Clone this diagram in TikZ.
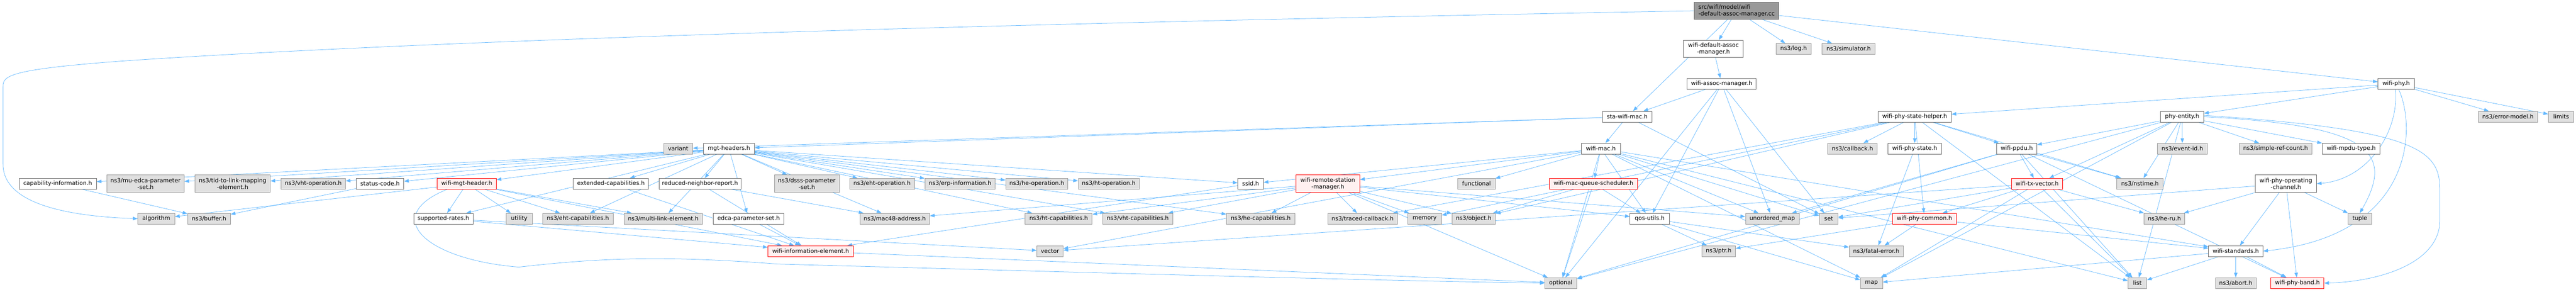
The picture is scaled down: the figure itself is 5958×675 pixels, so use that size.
\documentclass[tikz,border=0pt]{standalone}
\usepackage{fontspec}
\newfontfamily\dx{DejaVu Sans}
\usetikzlibrary{arrows.meta}
\pgfdeclarelayer{bg}
\pgfsetlayers{bg,main}
\definecolor{edgec}{HTML}{63B8FF}
\definecolor{extfill}{HTML}{E0E0E0}
\definecolor{extdraw}{HTML}{999999}
\definecolor{intdraw}{HTML}{666666}
\definecolor{redfill}{HTML}{FFF0F0}
\definecolor{reddraw}{HTML}{FF0000}
\definecolor{rootfill}{HTML}{999999}
\tikzset{
  base/.style={rectangle, inner sep=0pt, minimum height=25pt, line width=1pt,
    font={\dx\fontsize{13.33pt}{15.5pt}\selectfont}, align=center, text=black},
  ext/.style={base, fill=extfill, draw=extdraw},
  int/.style={base, fill=white, draw=intdraw},
  trunc/.style={base, fill=redfill, draw=reddraw},
  rootn/.style={base, fill=rootfill, draw=intdraw, align=left},
  two/.style={minimum height=40pt},
  edge/.style={draw=edgec, line width=0.9pt, -{Triangle[length=11pt,width=8pt]}}
}
\newcommand\mknode[6]{\node[#1, minimum width=#2pt] (#3) at (#4,#5) {#6};}
\begin{document}
\begin{tikzpicture}[x=1pt,y=-1pt]
\useasboundingbox (0,0) rectangle (5958,675);
% row 0
\mknode{rootn,two}{195}{root}{4016.5}{25}{src/wifi/model/wifi\\-default-assoc-manager.cc}
% row 1
\mknode{int,two}{138}{wdam}{3963}{113}{wifi-default-assoc\\-manager.h}
\mknode{ext}{81}{log}{4148.5}{113}{ns3/log.h}
\mknode{ext}{123}{sim}{4275.5}{113}{ns3/simulator.h}
% row 2
\mknode{int}{160}{wam}{3982}{194}{wifi-assoc-manager.h}
\mknode{int}{84}{wphy}{5542}{194}{wifi-phy.h}
% row 3
\mknode{int}{115}{sta}{3763.5}{270}{sta-wifi-mac.h}
\mknode{int}{169}{wpsh}{4428.5}{270}{wifi-phy-state-helper.h}
\mknode{int}{100}{phyent}{5047}{270}{phy-entity.h}
\mknode{ext}{137}{errmod}{5800.5}{270}{ns3/error-model.h}
\mknode{ext}{59}{limits}{5923.5}{270}{limits}
% row 4
\mknode{ext}{67}{variant}{1568.5}{344}{variant}
\mknode{int}{118}{mgth}{1686}{344}{mgt-headers.h}
\mknode{int}{91}{wmac}{3702.5}{344}{wifi-mac.h}
\mknode{ext}{115}{callback}{4284.5}{344}{ns3/callback.h}
\mknode{int}{123}{wpstate}{4428.5}{344}{wifi-phy-state.h}
\mknode{int}{93}{wppdu}{4664.5}{344}{wifi-ppdu.h}
\mknode{ext}{115}{eventid}{5047.5}{344}{ns3/event-id.h}
\mknode{ext}{168}{srefc}{5263}{344}{ns3/simple-ref-count.h}
\mknode{int}{134}{mpdut}{5438}{344}{wifi-mpdu-type.h}
% row 5
\mknode{int}{179}{capinfo}{133.5}{425}{capability-information.h}
\mknode{ext,two}{179}{muedca}{336.5}{425}{ns3/mu-edca-parameter\\-set.h}
\mknode{ext,two}{174}{tid}{538}{425}{ns3/tid-to-link-mapping\\-element.h}
\mknode{ext}{149}{vhtop}{724.5}{425}{ns3/vht-operation.h}
\mknode{int}{110}{status}{879}{425}{status-code.h}
\mknode{trunc}{137}{wmh}{1079.5}{425}{wifi-mgt-header.h}
\mknode{int}{174}{extcap}{1413}{425}{extended-capabilities.h}
\mknode{int}{190}{rnr}{1619}{425}{reduced-neighbor-report.h}
\mknode{ext,two}{150}{dsss}{1866}{425}{ns3/dsss-parameter\\-set.h}
\mknode{ext}{150}{ehtop}{2040}{425}{ns3/eht-operation.h}
\mknode{ext}{163}{erp}{2220.5}{425}{ns3/erp-information.h}
\mknode{ext}{144}{heop}{2398}{425}{ns3/he-operation.h}
\mknode{ext}{141}{htop}{2564.5}{425}{ns3/ht-operation.h}
\mknode{int}{59}{ssid}{2892.5}{425}{ssid.h}
\mknode{trunc,two}{148}{wrsm}{3071}{425}{wifi-remote-station\\-manager.h}
\mknode{ext}{86}{functional}{3415}{425}{functional}
\mknode{trunc}{203}{wmqs}{3685.5}{425}{wifi-mac-queue-scheduler.h}
\mknode{trunc}{119}{wtxv}{4711.5}{425}{wifi-tx-vector.h}
\mknode{ext}{107}{nstime}{4949.5}{425}{ns3/nstime.h}
\mknode{int,two}{142}{wpoc}{5287}{425}{wifi-phy-operating\\-channel.h}
% row 6
\mknode{ext}{85}{algorithm}{361.5}{506}{algorithm}
\mknode{ext}{99}{buffer}{483.5}{506}{ns3/buffer.h}
\mknode{int}{137}{suprates}{1025.5}{506}{supported-rates.h}
\mknode{ext}{60}{utility}{1201}{506}{utility}
\mknode{ext}{163}{ehtcap}{1336.5}{506}{ns3/eht-capabilities.h}
\mknode{ext}{182}{mle}{1534}{506}{ns3/multi-link-element.h}
\mknode{int}{163}{edca}{1731.5}{506}{edca-parameter-set.h}
\mknode{ext}{161}{mac48}{2069.5}{506}{ns3/mac48-address.h}
\mknode{ext}{155}{htcap}{2448.5}{506}{ns3/ht-capabilities.h}
\mknode{ext}{163}{vhtcap}{2631.5}{506}{ns3/vht-capabilities.h}
\mknode{ext}{158}{hecap}{2916}{506}{ns3/he-capabilities.h}
\mknode{ext}{161}{tracedcb}{3151.5}{506}{ns3/traced-callback.h}
\mknode{ext}{78}{memory}{3295}{506}{memory}
\mknode{ext}{101}{object}{3408.5}{506}{ns3/object.h}
\mknode{int}{91}{qos}{3815.5}{506}{qos-utils.h}
\mknode{ext}{124}{umap}{4099}{506}{unordered\_map}
\mknode{ext}{43}{set}{4229.5}{506}{set}
\mknode{trunc}{148}{wpc}{4451}{506}{wifi-phy-common.h}
\mknode{ext}{94}{heru}{5006}{506}{ns3/he-ru.h}
\mknode{ext}{54}{tuple}{5458}{506}{tuple}
% row 7
\mknode{trunc}{198}{wie}{1875}{581}{wifi-information-element.h}
\mknode{ext}{61}{vector}{2428.5}{581}{vector}
\mknode{ext}{78}{ptr}{3975}{581}{ns3/ptr.h}
\mknode{ext}{125}{fatal}{4339.5}{581}{ns3/fatal-error.h}
\mknode{int}{126}{wstd}{5171}{581}{wifi-standards.h}
% row 8
\mknode{ext}{74}{optional}{3610}{655}{optional}
\mknode{ext}{51}{map}{4328.5}{655}{map}
\mknode{ext}{43}{list}{4943.5}{655}{list}
\mknode{ext}{94}{abort}{5171}{655}{ns3/abort.h}
\mknode{trunc}{123}{wpband}{5313.5}{655}{wifi-phy-band.h}

\begin{pgfonlayer}{bg}
\foreach \tg in {wdam,sta,wphy,log,sim} \draw[edge] (root) -- (\tg);
\draw[edge] (root.west) .. controls (2000,60) and (900,100) .. (300,140)
  .. controls (20,160) and (7,175) .. (7,200) -- (7,380)
  .. controls (7,470) and (150,500) .. (algorithm.west);
\draw[edge] (wdam) -- (wam);
\foreach \tg in {sta,qos,optional,umap,set} \draw[edge] (wam) -- (\tg);
\foreach \tg in {variant,mgth,wmac,set} \draw[edge] (sta) -- (\tg);
\foreach \tg in {phyent,wpsh,errmod,limits} \draw[edge] (wphy) -- (\tg);
\draw[edge] ([xshift=-2pt]wphy.south) .. controls (5550,300) and (5480,415) .. (wpoc.east);
\draw[edge] ([xshift=6pt]wphy.south) .. controls (5590,300) and (5580,545) .. (wstd.east);
\foreach \tg in {callback,wpstate,wppdu,wpc,nstime,object,tracedcb,memory,list} \draw[edge] (wpsh) -- (\tg);
\foreach \tg in {wppdu,wtxv,eventid,nstime,srefc,mpdut,list,map,optional} \draw[edge] (phyent) -- (\tg);
\draw[edge] (phyent.east) .. controls (5480,290) and (5540,350) .. (tuple.north);
\draw[edge] ([yshift=3pt]phyent.east) .. controls (5600,300) and (5643,350) .. (5643,440)
  -- (5643,510) .. controls (5643,610) and (5500,652) .. (wpband.east);
\draw[edge] (wpstate) -- (fatal);
\foreach \tg in {wtxv,nstime,wpband,list,umap,optional} \draw[edge] (wppdu) -- (\tg);
\foreach \tg in {wpc,heru,set,map,list,vector} \draw[edge] (wtxv) -- (\tg);
\foreach \tg in {fatal,wstd,ptr} \draw[edge] (wpc) -- (\tg);
\foreach \tg in {list,abort,wpband,map} \draw[edge] (wstd) -- (\tg);
\foreach \tg in {wstd,wpband,heru,tuple,set} \draw[edge] (wpoc) -- (\tg);
\foreach \tg in {ptr,map,fatal} \draw[edge] (qos) -- (\tg);
\foreach \tg in {object,qos,optional} \draw[edge] (wmqs) -- (\tg);
\foreach \tg in {qos,ssid,wmqs,wrsm,functional,list,map,set,umap,optional,vector,wstd} \draw[edge] (wmac) -- (\tg);
\foreach \tg in {qos,hecap,htcap,vhtcap,mac48,object,tracedcb,memory,optional,umap} \draw[edge] (wrsm) -- (\tg);
\draw[edge] (ssid) -- (wie);
\foreach \tg in {capinfo,muedca,tid,vhtop,status,wmh,extcap,rnr,dsss,ehtop,erp,heop,htop,ssid,suprates,ehtcap,mle,edca,mac48,htcap,vhtcap,hecap} \draw[edge] (mgth) -- (\tg);
\foreach \tg in {algorithm,suprates,wie,utility,ehtcap,mle} \draw[edge] (wmh) -- (\tg);
\draw[edge] ([xshift=-45pt]wmh.south) .. controls (880,500) and (980,600) .. (1200,618)
  .. controls (1400,595) and (1550,592) .. (1800,611)
  .. controls (2500,630) and (3200,650) .. (optional.west);
\foreach \tg in {wie,vector} \draw[edge] (suprates) -- (\tg);
\draw[edge] (capinfo) -- (buffer);
\draw[edge] (status) -- (buffer);
\draw[edge] (extcap) -- (wie);
\foreach \tg in {wie,mac48} \draw[edge] (rnr) -- (\tg);
\draw[edge] (edca) -- (wie);
\draw[edge] (wie) -- (optional);
\end{pgfonlayer}
\end{tikzpicture}
\end{document}
